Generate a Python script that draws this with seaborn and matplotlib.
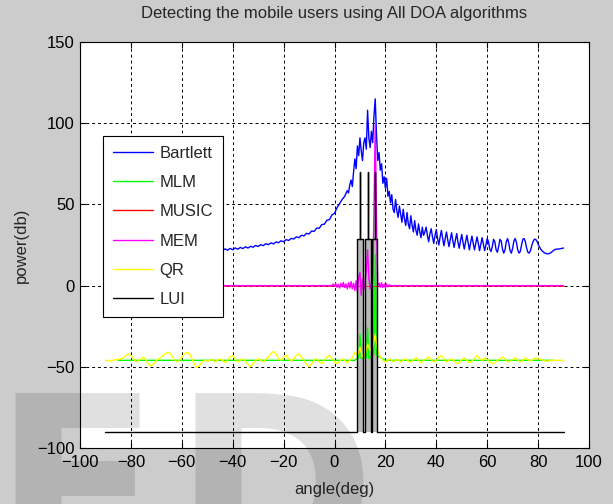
import numpy as np
import matplotlib
matplotlib.use("Agg")
import matplotlib.pyplot as plt
import seaborn as sns

# ---- data ----
# Bartlett: coarse grid where hidden / smooth, finer grid round the peaks
bartlett_angle = np.concatenate([np.arange(-90, -45, 2), np.arange(-45, 5.5, 1), np.arange(5.5, 90.5, 0.5)])
bartlett_power = [
    23, 22, 20.5, 21, 24, 26.5, 25, 21.5, 22.5, 26, 24.5, 21, 24, 26, 22.5, 22, 25.5, 23.5, 21.5, 23,
    24.5, 22, 21.5,
    22.4, 21.6, 22.6, 21.8, 22.9, 22.1, 23.2, 22.4, 23.5, 22.8, 23.9, 23.1, 24.2, 23.6, 24.7, 24.1,
    25.2, 24.6, 25.8, 25.2, 26.3, 25.7, 26.9, 26.4, 27.6, 27.0, 28.3, 27.8, 29.1, 28.7, 30.0, 29.5,
    31.0, 30.6, 32.2, 31.8, 33.6, 33.4, 35.4, 35.3, 37.6, 37.8, 40.2, 40.6, 43.5, 44.5, 48.0, 50.5,
    53.0, 55.0, 58.5,
    57, 62, 65, 61, 70, 78, 72, 86, 80, 91, 83, 77, 88, 91, 84, 108, 91, 85, 95, 88,
    104, 115, 93, 77, 82, 71, 75, 63, 67,
    60, 66, 55, 58, 51, 56, 47, 45, 53, 46, 42, 49, 44, 39, 47, 41, 37, 45, 38, 35,
    43, 37, 33, 40, 34, 31, 38, 33, 29.5, 36, 31,
    33, 36, 31, 27, 32, 35, 30, 26, 31, 34.5, 29, 25, 30, 34, 29, 24.5, 29, 33, 28, 24,
    28.5, 32.5, 27.5, 23.5, 28, 32, 27, 23, 27.5, 31.5, 26.5, 22.5, 27, 31, 26.5, 22, 26.5, 30.5, 26, 22,
    26, 30, 26, 21.5, 25.5, 29.5, 25.5, 21.5, 25, 29,
    27, 22.5, 21, 24, 28.5, 27, 22, 20.5, 24, 28.5, 27.5, 22.5, 20, 22, 27, 29, 26, 21.5, 20, 23,
    27.5, 29, 26.5, 22, 20, 21, 25, 28.5, 29, 27, 23, 20.5, 20, 21.5, 24.5, 27, 28.5, 28.5, 27.5, 25.5,
    24, 22.5, 21.5, 20.8, 20.2, 19.8, 19.6, 19.6, 19.8, 20.2, 20.9, 21.6, 22.1, 22.4, 22.5, 22.5,
    22.6, 22.8, 23.0, 23.1,
]

mlm_angle = [-85, -40, 0, 8, 9.5, 10, 10.5, 12.5, 13, 13.5, 15.5, 16, 16.5, 20, 50, 86]
mlm_power = [-46, -46, -46, -46, -44, -30, -45, -44, -26, -45, -42, 19, -43, -46, -46, -46]

mem_angle = [-90, -1, -0.5, 0, 0.5, 1, 1.5, 2, 2.5, 3, 3.5, 4, 4.5, 5, 5.5, 6, 6.5, 7, 7.5, 8,
             8.5, 9, 9.5, 10, 10.5, 11, 11.5, 12, 12.5, 13, 13.5, 14, 14.5, 15, 15.5, 16, 16.5,
             17, 17.5, 18, 18.5, 19, 19.5, 20, 20.5, 21, 21.5, 22, 90]
mem_power = [0, 0, 1, -0.5, 1.2, -1, 0.8, -1.5, 1.5, -0.8, 2, -1.2, 1, -2, 1.8, -1.5, 2.5, -2, 1.5, -3,
             3, -4, 5, 8, -6, 4, -3, 2, 10, 22, 5, -2, 1.5, 3, 45, 99, 40,
             0, 1.5, -1, 1.8, -1.2, 1, -1.5, 1, -0.8, 0.5, 0, 0]

# MUSIC sits at 0 dB, hidden under MEM in the reference
music_angle = [-90, 90]
music_power = [0, 0]

qr_angle = np.arange(-90, 91, 1)
qr_power = [
    -46, -46, -46.5, -46, -45.5, -45.5, -45, -44.5, -43, -42,
    -43, -45, -47, -46, -45, -44, -46, -48.5, -49.5, -48,
    -46, -45, -44, -42.5, -41.5, -41, -43, -45.5, -47, -46,
    -44, -42, -41, -42, -45, -48.5, -50.5, -49, -47, -46,
    -46.5, -46, -45.5, -47, -46, -45, -46, -47.5, -46, -44,
    -43, -45, -47, -46, -45, -46.5, -48.5, -50, -48, -46,
    -45, -46, -47, -45.5, -44, -42, -40.5, -42, -45, -46,
    -44, -43, -45, -46.5, -45, -43, -42, -44, -46, -48.5,
    -50, -48, -46, -45, -47, -48, -46, -44, -43, -45,
    -47, -48, -46.5, -45, -46, -47.5, -46, -44.5, -41, -43,
    -38, -44, -42, -36, -40, -38, -30, -40, -44, -46,
    -47, -46, -45, -47, -46, -45.5, -47, -46, -45, -46.5,
    -47, -45.5, -44.5, -46, -47.5, -46, -45, -44, -45.5, -47,
    -46, -44, -43, -45, -47, -46, -45, -46.5, -48, -47.5,
    -45.5, -44.5, -46, -47.5, -46.5, -45, -43, -45, -46, -44.5,
    -45.5, -47, -48, -47.5, -46, -45, -44, -45, -47, -46.5,
    -45.5, -44.5, -46, -47, -46, -44.5, -45.5, -46.5, -45.5, -44.5,
    -45, -45.5, -46, -46.5, -46.5, -46, -46, -46, -46, -46, -46,
]

lui_angle = [-90, 8.7, 8.7, 9.9, 9.9, 10.1, 10.1, 11.1, 11.1,
             12.0, 12.0, 13.1, 13.1, 13.3, 13.3, 14.2, 14.2,
             14.7, 14.7, 15.8, 15.8, 16.0, 16.0, 16.7, 16.7, 90]
lui_power = [-90, -90, 29, 29, 70, 70, 29, 29, -90,
             -90, 29, 29, 70, 70, 29, 29, -90,
             -90, 29, 29, 70, 70, 29, 29, -90, -90]

series = [
    ("Bartlett", bartlett_angle, bartlett_power, "#0000ff", 1.0),
    ("MLM", mlm_angle, mlm_power, "#00ff00", 1.0),
    ("MUSIC", music_angle, music_power, "#ff0000", 0.5),
    ("MEM", mem_angle, mem_power, "#ff00ff", 1.0),
    ("QR", qr_angle, qr_power, "#ffff00", 1.0),
    ("LUI", lui_angle, lui_power, "#000000", 1.0),
]

xticks = [-100, -80, -60, -40, -20, 0, 20, 40, 60, 80, 100]
yticks = [-100, -50, 0, 50, 100, 150]

# ---- style ----
sns.set_style("ticks")
plt.rcParams['font.family'] = ['Liberation Sans', 'DejaVu Sans']

fig = plt.figure(figsize=(6.13, 5.04), dpi=100, facecolor="#cccccc")
ax = fig.add_axes([80 / 613, 1 - 448 / 504, 509 / 613, 406 / 504])
ax.set_facecolor("white")

# grey body of the LUI pulses
ax.fill_between(lui_angle, lui_power, -90, color="0.72", lw=0, zorder=1.5)

for i, (name, xs, ys, col, lw) in enumerate(series):
    sns.lineplot(x=xs, y=ys, ax=ax, color=col, label=name, lw=lw,
                 estimator=None, sort=False, zorder=2 + i * 0.01)

ax.set_xlim(-100, 100)
ax.set_ylim(-100, 150)
ax.set_xticks(xticks)
ax.set_yticks(yticks)
ax.tick_params(direction="in", top=True, right=True, length=4, width=0.8,
               labelsize=12, colors="black")
ax.tick_params(axis="x", pad=5)
ax.tick_params(axis="y", pad=4)
for s in ax.spines.values():
    s.set_color("black")
    s.set_linewidth(0.8)
ax.grid(True, color="black", linestyle=(0, (3, 3)), linewidth=0.7)
ax.set_axisbelow(True)

ax.set_title("Detecting the mobile users using All DOA algorithms", fontsize=12, pad=17)
ax.set_xlabel("angle(deg)", fontsize=12, labelpad=9)
ax.set_ylabel("power(db)", fontsize=12, labelpad=6)

leg = ax.legend(loc="upper left", bbox_to_anchor=(23 / 509, 312 / 406), fontsize=12,
                frameon=True, fancybox=False, framealpha=1, edgecolor="black",
                handlelength=2.4, handletextpad=0.4, labelspacing=0.85,
                borderpad=0.6, borderaxespad=0)
leg.get_frame().set_linewidth(0.8)
# legend handles all the same width (MUSIC is drawn thinner in the plot)
for h in leg.get_lines():
    h.set_linewidth(1.0)

# faint "ED" watermark across the lower left
fig.text(-0.012, -0.133, "E", fontsize=176, fontweight="bold", family="DejaVu Sans",
         color="black", alpha=0.12, ha="left", va="baseline", zorder=10)
fig.text(0.282, -0.133, "D", fontsize=176, fontweight="bold", family="DejaVu Sans",
         color="black", alpha=0.12, ha="left", va="baseline", zorder=10)

fig.savefig("out.png", dpi=100, facecolor=fig.get_facecolor())
